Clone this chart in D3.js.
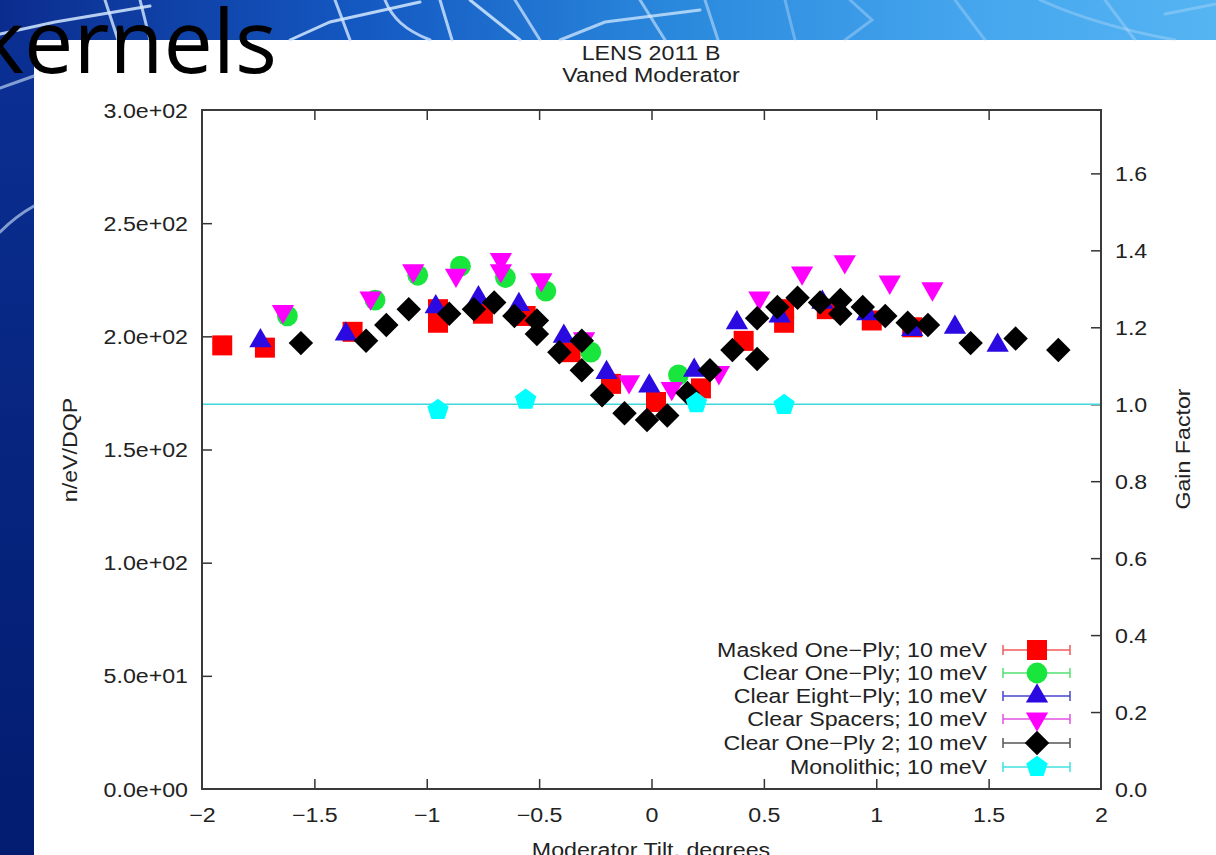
<!DOCTYPE html>
<html><head><meta charset="utf-8">
<script src="https://cdn.jsdelivr.net/npm/d3@7"></script>
<style>html,body{margin:0;padding:0;background:#fff;overflow:hidden}</style>
</head><body>
<svg id="c" width="1216" height="855"></svg>
<script>
// ---------------- data ----------------
const chartTitle = ["LENS 2011 B", "Vaned Moderator"];
const xLabel = "Moderator Tilt, degrees";
const yLabel = "n/eV/DQP";
const y2Label = "Gain Factor";
const gainReference = 170; // n/eV/DQP value that corresponds to gain factor 1.0

const xTicks = [-2, -1.5, -1, -0.5, 0, 0.5, 1, 1.5, 2];
const xTickLabels = ["\u22122", "\u22121.5", "\u22121", "\u22120.5", "0", "0.5", "1", "1.5", "2"];
const yTicks = [0, 50, 100, 150, 200, 250, 300];
const yTickLabels = ["0.0e+00", "5.0e+01", "1.0e+02", "1.5e+02", "2.0e+02", "2.5e+02", "3.0e+02"];
const y2Ticks = [0, 0.2, 0.4, 0.6, 0.8, 1.0, 1.2, 1.4, 1.6];
const y2TickLabels = ["0.0", "0.2", "0.4", "0.6", "0.8", "1.0", "1.2", "1.4", "1.6"];

const seriesNames = [
  "Masked One\u2212Ply; 10 meV",
  "Clear One\u2212Ply; 10 meV",
  "Clear Eight\u2212Ply; 10 meV",
  "Clear Spacers; 10 meV",
  "Clear One\u2212Ply 2; 10 meV",
  "Monolithic; 10 meV"
];

const maskedOnePly = [[-1.91,196],[-1.72,195],[-1.33,202],[-0.95,212],[-0.95,206],[-0.75,210],[-0.56,209],
  [-0.36,193],[-0.18,179],[0.02,171],[0.22,177],[0.41,198],[0.59,212],[0.59,206],[0.78,212],[0.98,207],[1.16,204]];
const clearOnePly = [[-1.62,209],[-1.23,216],[-1.04,227],[-0.85,231],[-0.65,226],[-0.47,220],[-0.27,193],[0.12,183]];
const clearEightPly = [[-1.74,198],[-1.36,201],[-0.96,213],[-0.77,217],[-0.59,214],[-0.39,200],[-0.20,184],[-0.01,178],
  [0.19,185],[0.38,206],[0.57,209],[0.76,215],[0.96,210],[1.16,203],[1.35,204],[1.54,196]];
const clearSpacers = [[-1.64,211],[-1.25,217],[-1.06,229],[-0.87,227],[-0.67,234],[-0.67,229],[-0.49,225],[-0.30,199],
  [-0.10,180],[0.09,177],[0.30,184],[0.48,217],[0.67,228],[0.86,233],[1.06,224],[1.25,221]];
const clearOnePly2 = [[-1.56,197],[-1.27,198],[-1.18,205],[-1.08,212],[-0.90,210],[-0.79,212],[-0.70,215],[-0.61,209],
  [-0.51,207],[-0.51,201],[-0.41,193],[-0.31,198],[-0.31,185],[-0.22,174],[-0.12,166],[-0.02,163],[0.07,165],
  [0.16,175],[0.26,185],[0.36,194],[0.47,208],[0.47,190],[0.56,213],[0.65,217],[0.75,215],[0.84,216],[0.84,210],
  [0.94,213],[1.04,209],[1.14,206],[1.23,205],[1.42,197],[1.62,199],[1.81,194]];
const monolithic = [[-0.95,167.5],[-0.56,172],[0.20,170.5],[0.59,169.7]];

// ---------------- styles ----------------
const FONT = "'Liberation Sans', Arial, Helvetica, sans-serif";
const FS = 20, SX = 1.16;

const pentagon = { draw(ctx, size) {
  const r = Math.sqrt(size / 2.378);
  for (let i = 0; i < 5; i++) {
    const a = (-90 + 72 * i) * Math.PI / 180;
    const px = r * Math.cos(a), py = r * Math.sin(a);
    if (i === 0) ctx.moveTo(px, py); else ctx.lineTo(px, py);
  }
  ctx.closePath();
}};
const diamond = { draw(ctx, size) {
  const r = Math.sqrt(size / 2);
  ctx.moveTo(0, -r); ctx.lineTo(r, 0); ctx.lineTo(0, r); ctx.lineTo(-r, 0); ctx.closePath();
}};

const seriesData = [maskedOnePly, clearOnePly, clearEightPly, clearSpacers, clearOnePly2, monolithic];
const seriesStyle = [
  {type: d3.symbolSquare, size: 400, rot: 0, fill: "#ff0000", line: "#f05a5a"},
  {type: d3.symbolCircle, size: 340, rot: 0, fill: "#19e63c", line: "#55e070"},
  {type: d3.symbolTriangle, size: 215, rot: 0, fill: "#2a0ae0", line: "#4444cc"},
  {type: d3.symbolTriangle, size: 215, rot: 180, fill: "#ff00ff", line: "#e050e0"},
  {type: diamond, size: 300, rot: 0, fill: "#000000", line: "#555555"},
  {type: pentagon, size: 300, rot: 0, fill: "#00ffff", line: "#40e0e0"}
];

// ---------------- layout ----------------
const svg = d3.select("#c");
const L = 202, R = 1101, T = 110, B = 789;
const x = d3.scaleLinear().domain([-2, 2]).range([L, R]);
const y = d3.scaleLinear().domain([0, 300]).range([B, T]);
const y2 = d3.scaleLinear().domain([0, 300 / gainReference]).range([B, T]);

// ---------------- slide background ----------------
const defs = svg.append("defs");
const gTop = defs.append("linearGradient").attr("id", "gtop").attr("x1", 0).attr("x2", 1).attr("y1", 0).attr("y2", 0);
[["0", "#0b2c8e"], ["0.3", "#1459c2"], ["0.55", "#2a88dc"], ["0.8", "#45a6ee"], ["1", "#55b4f2"]]
  .forEach(s => gTop.append("stop").attr("offset", s[0]).attr("stop-color", s[1]));
const gLeft = defs.append("linearGradient").attr("id", "gleft").attr("x1", 0).attr("x2", 0).attr("y1", 0).attr("y2", 1);
[["0", "#0b3196"], ["0.5", "#072580"], ["1", "#021c70"]]
  .forEach(s => gLeft.append("stop").attr("offset", s[0]).attr("stop-color", s[1]));

svg.append("rect").attr("x", 0).attr("y", 0).attr("width", 1216).attr("height", 855).attr("fill", "#fff");
svg.append("rect").attr("x", 0).attr("y", 0).attr("width", 34).attr("height", 855).attr("fill", "url(#gleft)");
svg.append("rect").attr("x", 0).attr("y", 0).attr("width", 1216).attr("height", 40).attr("fill", "url(#gtop)");

const deco = svg.append("g").attr("fill", "none").attr("stroke-linecap", "round");
const decoLines = [
  ["M0,34 L55,22 L150,6", 0.85], ["M105,0 L118,40", 0.8], ["M140,0 L150,40", 0.8],
  ["M290,40 L330,22 L420,2", 0.85], ["M335,0 L350,40", 0.8], ["M385,0 C392,18 405,30 430,40", 0.8],
  ["M440,0 L452,40", 0.8], ["M470,0 L520,40", 0.85], ["M515,0 L540,40", 0.7],
  ["M560,40 L605,22 L700,10", 0.75], ["M640,0 L665,40", 0.6], ["M705,0 L718,40", 0.5],
  ["M785,0 L795,40", 0.35], ["M850,0 L872,20 L845,40", 0.35], ["M955,0 L985,40", 0.3],
  ["M1040,0 C1080,18 1120,30 1175,40", 0.3], ["M1105,0 L1135,40", 0.3], ["M1165,14 L1216,4", 0.3],
  ["M0,88 L34,76", 0.6], ["M0,232 Q16,216 34,206", 0.6]
];
decoLines.forEach(d => deco.append("path").attr("d", d[0]).attr("stroke", "#d4e9ff")
  .attr("stroke-width", 3).attr("opacity", d[1]));

svg.append("text").attr("x", 277).attr("y", 73).attr("text-anchor", "end")
  .attr("font-family", "'Open Sans', 'DejaVu Sans', sans-serif").attr("font-size", 88)
  .attr("fill", "#000").text("kernels");

// ---------------- text helper ----------------
function label(g, tx, ty, str, anchor, rot) {
  return g.append("text")
    .attr("transform", `translate(${tx},${ty}) rotate(${rot || 0}) scale(${SX},1)`)
    .attr("text-anchor", anchor || "middle")
    .attr("font-family", FONT).attr("font-size", FS).attr("fill", "#222")
    .text(str);
}

const chart = svg.append("g");

// titles
label(chart, 651, 60, chartTitle[0]);
label(chart, 651, 82, chartTitle[1]);

// ---------------- axes ----------------
function styleAxis(g) {
  g.select(".domain").remove();
  g.selectAll(".tick line").attr("stroke", "#333").attr("stroke-width", 1.5);
  g.selectAll(".tick text").attr("font-family", FONT).attr("font-size", FS).attr("fill", "#222");
}

const ax = chart.append("g").attr("transform", `translate(0,${B})`)
  .call(d3.axisBottom(x).tickValues(xTicks).tickSize(-10).tickFormat((d, i) => xTickLabels[i]));
styleAxis(ax);
ax.selectAll(".tick text").attr("y", 0).attr("dy", null).attr("transform", `translate(0,33) scale(${SX},1)`);
ax.selectAll(".tick").filter(d => d === -2 || d === 2).select("line").remove();

const axTop = chart.append("g").attr("transform", `translate(0,${T})`)
  .call(d3.axisTop(x).tickValues(xTicks.slice(1, -1)).tickSize(-10).tickFormat(""));
styleAxis(axTop);

const ay = chart.append("g").attr("transform", `translate(${L},0)`)
  .call(d3.axisLeft(y).tickValues(yTicks).tickSize(-10).tickFormat((d, i) => yTickLabels[i]));
styleAxis(ay);
ay.selectAll(".tick text").attr("x", 0).attr("dy", "0.35em").attr("transform", `translate(-14,0) scale(${SX},1)`);
ay.selectAll(".tick").filter(d => d === 0 || d === 300).select("line").remove();

const ay2 = chart.append("g").attr("transform", `translate(${R},0)`)
  .call(d3.axisRight(y2).tickValues(y2Ticks).tickSize(-10).tickFormat((d, i) => y2TickLabels[i]));
styleAxis(ay2);
ay2.selectAll(".tick text").attr("x", 0).attr("dy", "0.35em").attr("transform", `translate(14,0) scale(${SX},1)`);
ay2.selectAll(".tick").filter(d => d === 0).select("line").remove();

// frame
chart.append("rect").attr("x", L).attr("y", T).attr("width", R - L).attr("height", B - T)
  .attr("fill", "none").attr("stroke", "#3a3a3a").attr("stroke-width", 2);

// axis titles
label(chart, 651, 857, xLabel);
label(chart, 70, 450, yLabel, "middle", -90).attr("dominant-baseline", "central");
label(chart, 1183, 449, y2Label, "middle", -90).attr("dominant-baseline", "central");

// gain = 1 reference line
chart.append("line").attr("x1", L + 1).attr("x2", R - 1)
  .attr("y1", y2(1)).attr("y2", y2(1))
  .attr("stroke", "#3fd6dc").attr("stroke-width", 1.6);

// ---------------- data points ----------------
const plot = chart.append("g");
seriesData.forEach((data, si) => {
  const st = seriesStyle[si];
  const sym = d3.symbol().type(st.type).size(st.size);
  plot.append("g").selectAll("path").data(data).join("path")
    .attr("d", sym)
    .attr("transform", d => `translate(${x(d[0])},${y(d[1])}) rotate(${st.rot})`)
    .attr("fill", st.fill);
});

// ---------------- legend ----------------
const legendY = [650, 673, 696, 719, 743, 767];
const lg = chart.append("g");
seriesNames.forEach((name, i) => {
  const st = seriesStyle[i];
  const yy = legendY[i];
  label(lg, 987, yy, name, "end").attr("dominant-baseline", "central");
  lg.append("line").attr("x1", 1003).attr("x2", 1070).attr("y1", yy).attr("y2", yy)
    .attr("stroke", st.line).attr("stroke-width", 1.5);
  [1003, 1070].forEach(cx => lg.append("line").attr("x1", cx).attr("x2", cx)
    .attr("y1", yy - 5).attr("y2", yy + 5).attr("stroke", st.line).attr("stroke-width", 1.5));
  lg.append("path").attr("d", d3.symbol().type(st.type).size(st.size)())
    .attr("transform", `translate(1037,${yy}) rotate(${st.rot})`).attr("fill", st.fill);
});
</script>
</body></html>
